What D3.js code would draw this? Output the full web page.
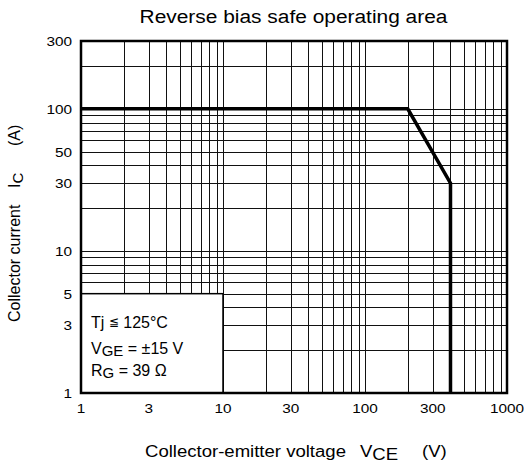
<!DOCTYPE html>
<html>
<head>
<meta charset="utf-8">
<script src="https://cdn.jsdelivr.net/npm/d3@7"></script>
<style>
	body { margin: 0; background: #fff; }
	svg { font-family: "Liberation Sans", Arial, sans-serif; }
</style>
</head>
<body>
<svg class="rbsoa"></svg>
<script>
const size = { w: 524, h: 463 };
const margin = { top: 41, right: 17, bottom: 70, left: 81 };

// axis ticks
const xTicks = [1, 3, 10, 30, 100, 300, 1000];
const yTicks = [1, 3, 5, 10, 30, 50, 100, 300];

// limit curve: Vce (V), Ic (A)
const limitV = [1, 200, 400, 400];
const limitI = [100, 100, 30, 1];

// legend box corner (data units)
const boxV = [1, 10];
const boxI = [1, 5];

const svg = d3.select("svg.rbsoa").attr("width", size.w).attr("height", size.h);

const x = d3.scaleLog().domain([1, 1000]).range([margin.left, size.w - margin.right]);
const y = d3.scaleLog().domain([1, 300]).range([size.h - margin.bottom, margin.top]);

// the reference text is a bit wider than Liberation Sans, so stretch it
function wideText(parent, tx, ty, k) {
	return parent.append("g")
		.attr("transform", `translate(${tx},${ty}) scale(${k},1)`)
		.append("text");
}

// grid lines at every 1..9 of each decade
const xGrid = x.ticks().filter((d) => d > 1 && d < 1000);
const yGrid = y.ticks().filter((d) => d > 1 && d < 300);

const grid = svg.append("g").attr("stroke", "#111").attr("stroke-width", 1);
grid.selectAll("line.v")
	.data(xGrid)
	.join("line")
	.attr("class", "v")
	.attr("x1", (d) => Math.round(x(d)) + 0.5)
	.attr("x2", (d) => Math.round(x(d)) + 0.5)
	.attr("y1", y(300))
	.attr("y2", y(1));
grid.selectAll("line.h")
	.data(yGrid)
	.join("line")
	.attr("class", "h")
	.attr("x1", x(1))
	.attr("x2", x(1000))
	.attr("y1", (d) => Math.round(y(d)) + 0.5)
	.attr("y2", (d) => Math.round(y(d)) + 0.5);

// legend box covers the grid
svg.append("rect")
	.attr("x", x(boxV[0]))
	.attr("y", y(boxI[1]))
	.attr("width", x(boxV[1]) - x(boxV[0]))
	.attr("height", y(boxI[0]) - y(boxI[1]))
	.attr("fill", "#fff")
	.attr("stroke", "#000")
	.attr("stroke-width", 1.5);

const legend = svg.append("g").attr("font-size", 16);
const lx = x(1) + 10;
let t = legend.append("text").attr("x", lx).attr("y", 328);
t.append("tspan").text("Tj ");
t.append("tspan").attr("font-size", 12).attr("dy", -2).text("≦");
t.append("tspan").attr("dy", 2).text(" 125°C");

t = legend.append("text").attr("x", lx).attr("y", 354);
t.append("tspan").text("V");
t.append("tspan").attr("font-size", 15).attr("dy", 2).text("GE");
t.append("tspan").attr("dy", -2).text(" = ±15 V");

t = legend.append("text").attr("x", lx).attr("y", 376);
t.append("tspan").text("R");
t.append("tspan").attr("font-size", 15).attr("dy", 2).text("G");
t.append("tspan").attr("dy", -2).text(" = 39 Ω");

// limit curve
const line = d3.line()
	.x((d) => x(d[0]))
	.y((d) => y(d[1]));
svg.append("path")
	.datum(limitV.map((v, i) => [v, limitI[i]]))
	.attr("d", line)
	.attr("fill", "none")
	.attr("stroke", "#000")
	.attr("stroke-width", 3.5);

// frame
svg.append("rect")
	.attr("x", x(1))
	.attr("y", y(300))
	.attr("width", x(1000) - x(1))
	.attr("height", y(1) - y(300))
	.attr("fill", "none")
	.attr("stroke", "#000")
	.attr("stroke-width", 2.5);

// tick labels
const tickK = 1.28;
xTicks.forEach((d) => {
	wideText(svg, x(d), 413, tickK)
		.attr("font-size", 12)
		.attr("text-anchor", "middle")
		.text(d);
});
yTicks.forEach((d) => {
	wideText(svg, 72, y(d) + 5, tickK)
		.attr("font-size", 12)
		.attr("text-anchor", "end")
		.text(d);
});

// title
wideText(svg, 293.5, 23, 1.1)
	.attr("font-size", 19)
	.attr("text-anchor", "middle")
	.text("Reverse bias safe operating area");

// x axis label
const labK = 1.16;
const xl = wideText(svg, 0, 457, labK).attr("font-size", 16);
xl.append("tspan").attr("x", 145 / labK).text("Collector-emitter voltage");
xl.append("tspan").attr("x", 360 / labK).text("V");
xl.append("tspan").attr("dy", 3).text("CE");
xl.append("tspan").attr("x", 422 / labK).attr("dy", -3).text("(V)");

// y axis label
const yl = svg.append("text")
	.attr("transform", "translate(20,0) rotate(-90)")
	.attr("font-size", 16);
yl.append("tspan").attr("x", -322).text("Collector current");
yl.append("tspan").attr("x", -188).text("I");
yl.append("tspan").attr("dy", 3).attr("font-size", 15).text("C");
yl.append("tspan").attr("x", -146).attr("dy", -3).text("(A)");
</script>
</body>
</html>
